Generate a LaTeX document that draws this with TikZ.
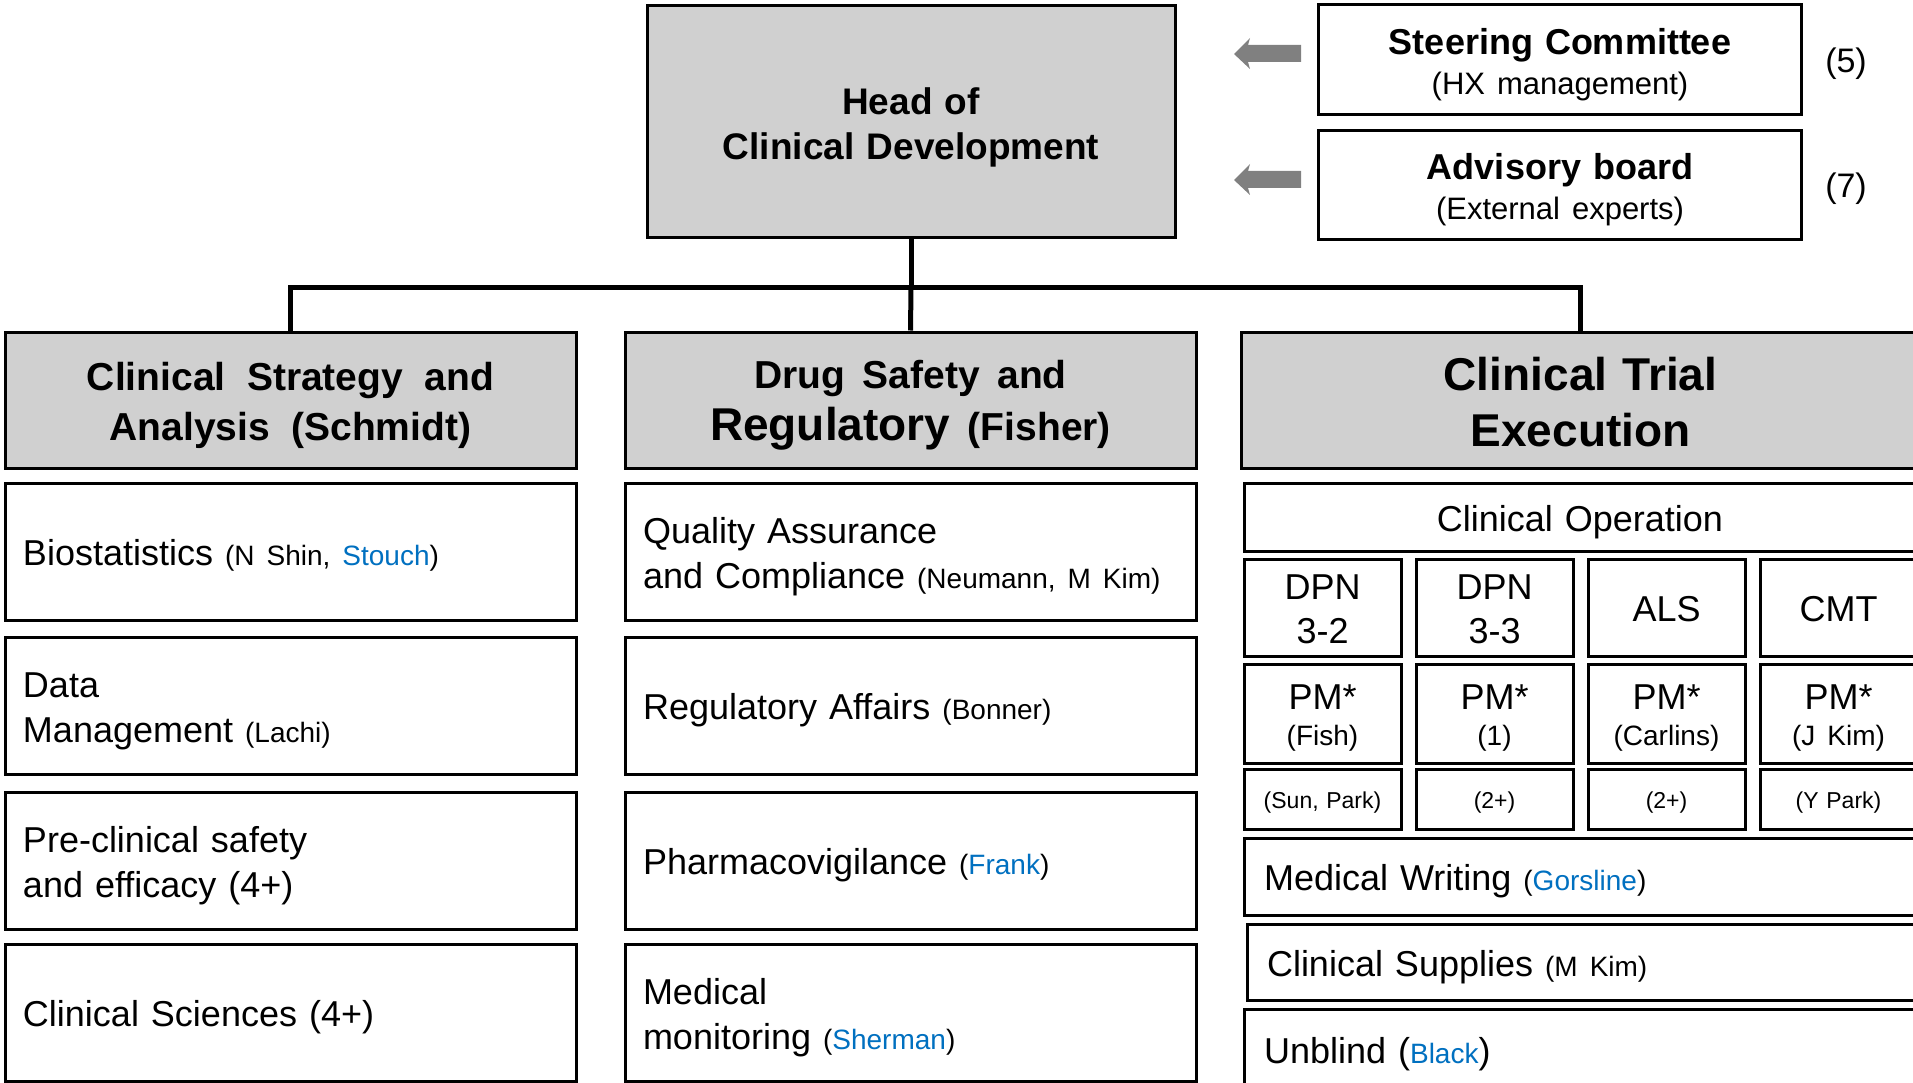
\documentclass[tikz,border=0pt]{standalone}
\usepackage{fontspec}
\setmainfont{Liberation Sans}
\definecolor{namecol}{RGB}{0,112,192}
\definecolor{hdrfill}{RGB}{208,208,208}
\definecolor{arrowgray}{RGB}{128,128,128}
\newcommand\setfs[2]{\fontsize{#1}{#2}\selectfont}
\newcommand\widesp[1]{\spaceskip #1\relax}
\newcommand\who[1]{\textcolor{namecol}{#1}}
\newcommand\aside[1]{{\setfs{28}{45}#1}}
% line-box struts so text sits in boxes the way slide software centres it
\newcommand\topstrut{\rule{0pt}{1.0em}}
\newcommand\botstrut{\rule[-0.2em]{0pt}{0.2em}}

\begin{document}
\begin{tikzpicture}[x=1pt,y=-1pt,
  box/.style={draw=black, line width=3pt, fill=white, inner xsep=18pt, inner ysep=0pt,
              font=\setfs{36}{45},
              execute at begin node=\topstrut, execute at end node=\botstrut},
  hdr/.style={box, fill=hdrfill, align=center, inner xsep=0pt},
  colbox/.style={box, text width=535pt, minimum height=137pt, align=left},
  widebox/.style={box, inner xsep=20pt, text width=640pt, align=left},
  cell/.style={box, inner xsep=0pt, text width=157pt, align=center},
  sidebox/.style={box, text width=483pt, align=center, inner xsep=0pt},
  conn/.style={draw=black, line width=5pt},
  pics/leftarrow/.style={code={
    \fill[arrowgray] (0,0) -- (16,-16) -- (14,-9) -- (67,-9) -- (67,8)
                     -- (14,8) -- (16,15) -- cycle;}}
]
\useasboundingbox (0,0) rectangle (1913,1083);
\fill[white] (0,0) rectangle (1913,1083);

% top level
\node[hdr, text width=528pt, minimum height=232pt, font=\bfseries\setfs{37}{45}]
  (head) at (911,122) {Head of\\Clinical Development};

\node[sidebox, minimum height=110pt, font=\setfs{36}{40}] (steer) at (1560,60)
  {\textbf{Steering Committee}\\{\setfs{31}{40}(HX management)}};
\node[sidebox, minimum height=109pt, font=\setfs{36}{40}] (adv) at (1560,185)
  {\textbf{Advisory board}\\{\setfs{31}{40}(External experts)}};
\node[font=\setfs{34}{40}, inner sep=0pt] (n5) at (1846,64) {(5)};
\node[font=\setfs{34}{40}, inner sep=0pt] (n7) at (1846,189) {(7)};

\pic at (1234,54) {leftarrow};
\pic at (1234,180) {leftarrow};

% department headers
\node[hdr, text width=571pt, minimum height=136pt,
      font={\bfseries\setfs{39}{50}}] (hdrL) at (290.5,400)
  {\widesp{0.55em}Clinical Strategy and\\Analysis (Schmidt)};
\node[hdr, text width=571pt, minimum height=136pt,
      font={\bfseries\setfs{39}{52}}] (hdrM) at (910.5,400)
  {\widesp{0.45em}Drug Safety and\\{\setfs{46}{52}Regulatory} (Fisher)};
\node[hdr, text width=679pt, minimum height=136pt,
      font=\bfseries\setfs{46}{56}] (hdrR) at (1580.5,400)
  {Clinical Trial\\Execution};

% connectors
\draw[conn] (head.south) -- ++(0,48) coordinate (hub);
\draw[conn] (hub) -- (hdrM.north);
\draw[conn] (hdrL.north) -- (hdrL.north |- hub) -- (hdrR.north |- hub) -- (hdrR.north);

% clinical strategy column
\node[colbox] (bio) at (290.5,551.5)
  {Biostatistics \aside{(N Shin, \who{Stouch})}};
\node[colbox] (dm) at (290.5,705.5)
  {Data\\Management \aside{(Lachi)}};
\node[colbox] (pre) at (290.5,860.5)
  {Pre-clinical safety\\and efficacy (4+)};
\node[colbox] (cls) at (290.5,1012.5)
  {Clinical Sciences (4+)};

% drug safety column
\node[colbox] (qa) at (910.5,551.5)
  {Quality Assurance\\and Compliance \aside{(Neumann, M Kim)}};
\node[colbox] (ra) at (910.5,705.5)
  {Regulatory Affairs \aside{(Bonner)}};
\node[colbox] (pv) at (910.5,860.5)
  {Pharmacovigilance \aside{(\who{Frank})}};
\node[colbox] (mm) at (910.5,1012.5)
  {Medical\\monitoring \aside{(\who{Sherman})}};

% clinical trial execution column
\node[box, text width=680pt, minimum height=68pt, inner xsep=0pt, align=center] (cop) at (1584,517)
  {\hspace*{-8pt}Clinical Operation};

\node[cell, minimum height=97pt, font=\setfs{36}{44}] (t1) at (1322.5,607.5) {DPN\\3-2};
\node[cell, minimum height=97pt, font=\setfs{36}{44}] (t2) at (1494.5,607.5) {DPN\\3-3};
\node[cell, minimum height=97pt, font=\setfs{36}{44}] (t3) at (1666.5,607.5) {ALS};
\node[cell, minimum height=97pt, font=\setfs{36}{44}] (t4) at (1838.5,607.5) {CMT};

\node[cell, minimum height=99pt, font=\setfs{36}{36}] (p1) at (1322.5,713.5) {PM*\\{\setfs{28}{36}(Fish)}};
\node[cell, minimum height=99pt, font=\setfs{36}{36}] (p2) at (1494.5,713.5) {PM*\\{\setfs{28}{36}(1)}};
\node[cell, minimum height=99pt, font=\setfs{36}{36}] (p3) at (1666.5,713.5) {PM*\\{\setfs{28}{36}(Carlins)}};
\node[cell, minimum height=99pt, font=\setfs{36}{36}] (p4) at (1838.5,713.5) {PM*\\{\setfs{28}{36}(J Kim)}};

\node[cell, minimum height=60pt, font=\setfs{23}{30}] (s1) at (1322.5,799) {(Sun, Park)};
\node[cell, minimum height=60pt, font=\setfs{23}{30}] (s2) at (1494.5,799) {(2+)};
\node[cell, minimum height=60pt, font=\setfs{23}{30}] (s3) at (1666.5,799) {(2+)};
\node[cell, minimum height=60pt, font=\setfs{23}{30}] (s4) at (1838.5,799) {(Y Park)};

\node[widebox, minimum height=77pt] (mw) at (1584,876.5)
  {Medical Writing \aside{(\who{Gorsline})}};
\node[widebox, minimum height=76pt] (cs) at (1587,962)
  {Clinical Supplies \aside{(M Kim)}};
\node[widebox, minimum height=80pt] (ub) at (1584,1049)
  {Unblind (\aside{\who{Black}})};
\end{tikzpicture}
\end{document}
